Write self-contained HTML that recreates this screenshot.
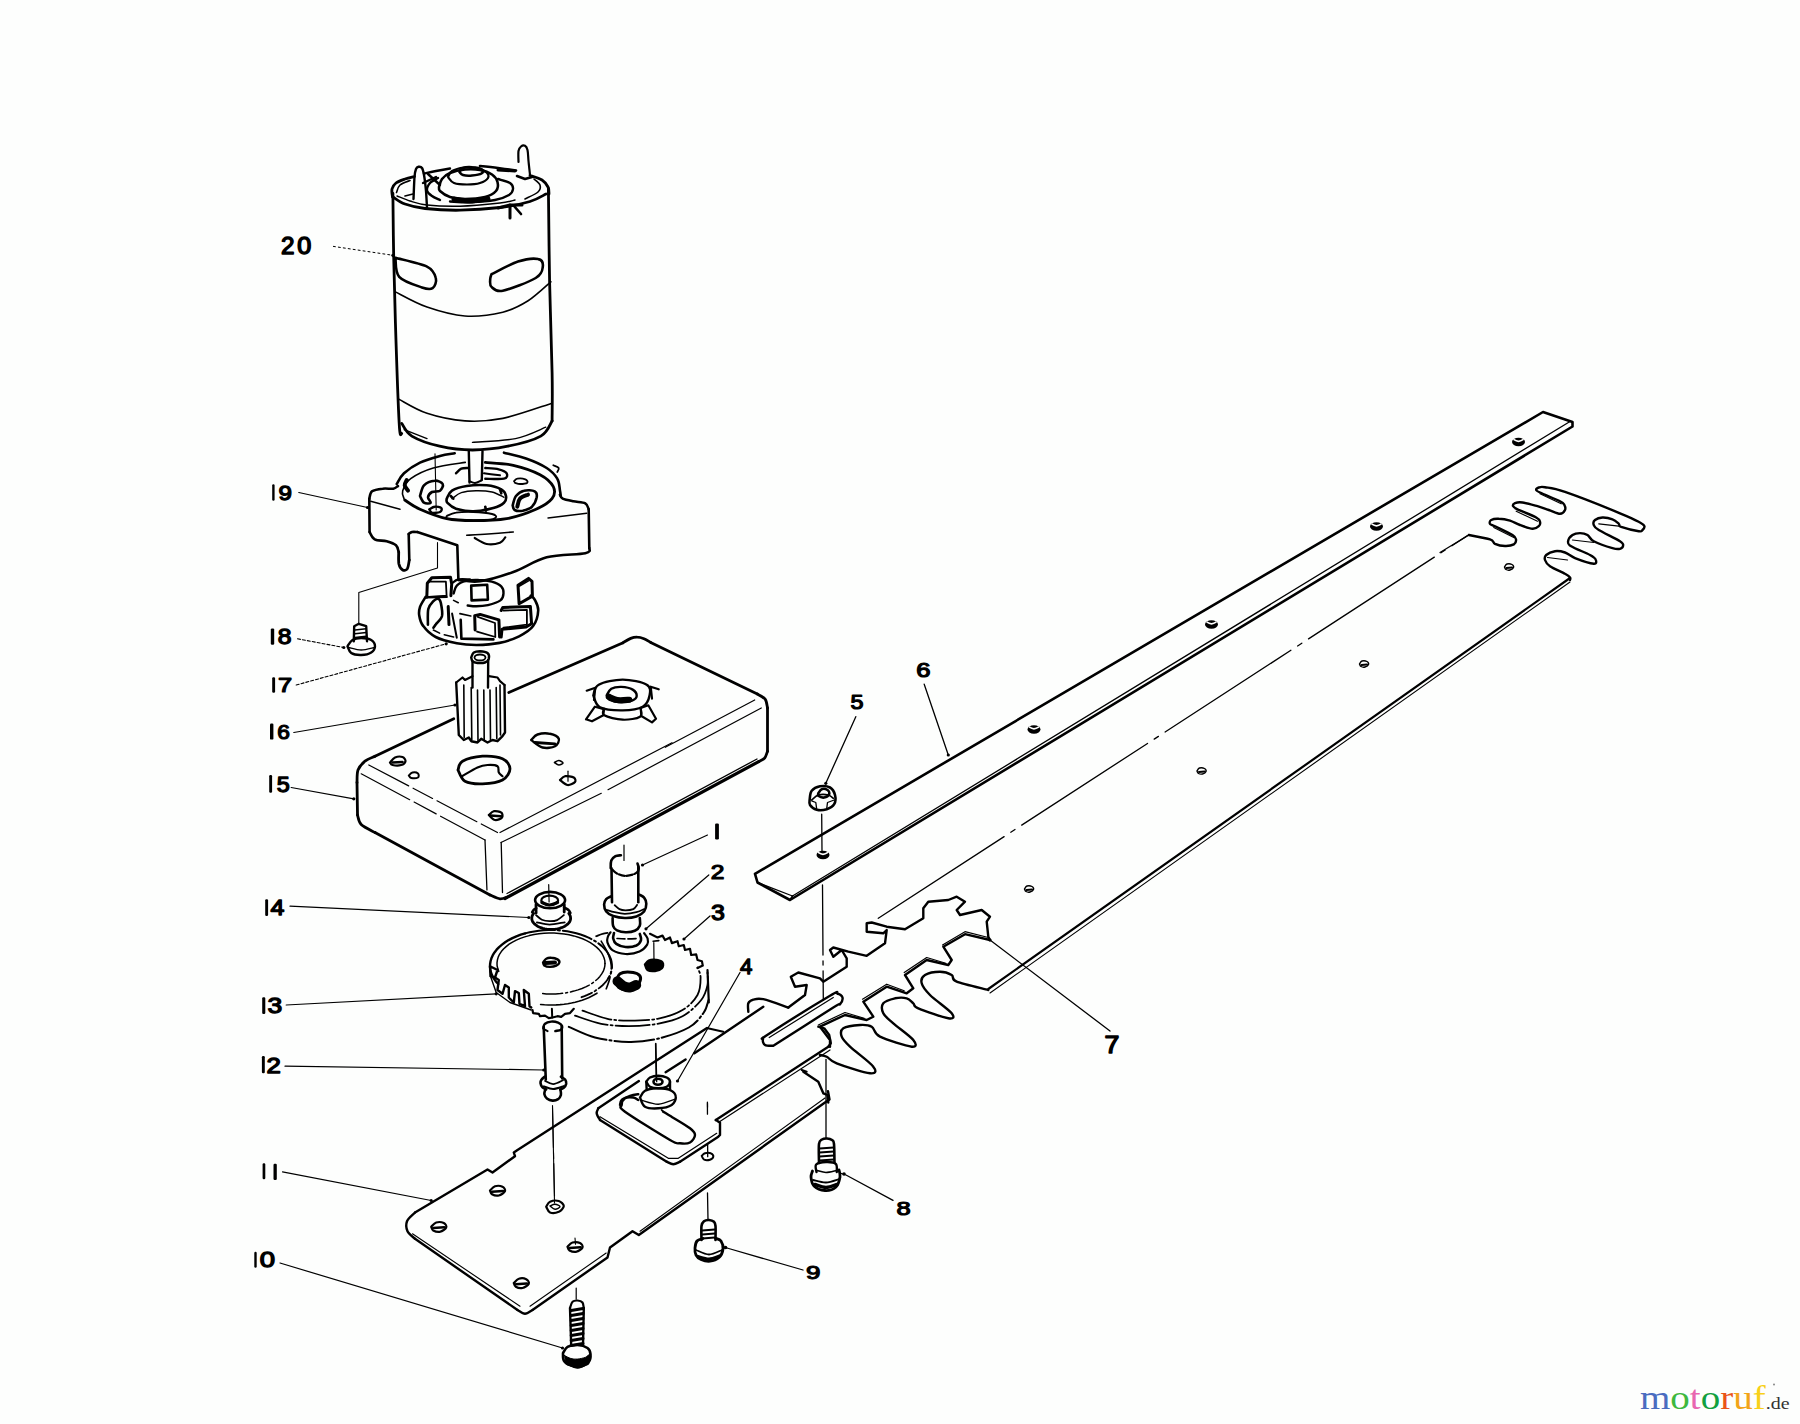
<!DOCTYPE html>
<html><head><meta charset="utf-8"><style>
html,body{margin:0;padding:0;background:#fdfefd;}
svg{display:block;}
</style></head><body>
<svg width="1800" height="1424" viewBox="0 0 1800 1424" stroke="#000" stroke-linecap="round" stroke-linejoin="round" fill="none">
<path d="M392.9 193.3 C393 203 393.2 230 393.6 251.5 C394 273 394.5 293.6 395.4 322.3 C396.3 350.9 398.1 404.9 399.2 423.4 C400.2 442 401.3 431.8 401.7 433.5" stroke-width="2.8" fill="none"/>
<path d="M548.4 188.3 C548.6 203.9 549 251.1 549.6 281.8 C550.3 312.6 551.7 349.7 552.1 372.8 C552.6 396 552.1 412.9 552.1 420.9" stroke-width="2.8" fill="none"/>
<path d="M401.7 423.4 C403.4 425.5 405.5 432.3 411.8 436.1 C418.1 439.8 429.5 443.9 439.6 446.2 C449.7 448.5 461.1 450 472.5 450 C483.9 450 496.5 448.5 507.9 446.2 C519.3 443.9 533.4 440.3 540.8 436.1 C548.1 431.8 550.3 423.4 552.1 420.9" stroke-width="2.8" fill="none"/>
<path d="M399.2 399.4 C403.8 401.7 416 409.7 427 413.3 C437.9 416.9 452.3 420 464.9 420.9 C477.6 421.7 488.3 421.3 502.8 418.4 C517.4 415.4 543.9 405.7 552.1 403.2" stroke-width="1.6" fill="none"/>
<path d="M404.2 429.7 C408 431.2 423.2 437.1 427 438.6" stroke-width="1.4" fill="none"/>
<path d="M472.5 442.4 C479.7 441.7 503.3 441.1 515.5 438.6 C527.7 436.1 540.8 429.1 545.8 427.2" stroke-width="1.4" fill="none"/>
<path d="M395.4 291.9 C400.7 294.5 415.4 303.1 427 307.1 C438.6 311.1 452.3 315.1 464.9 316 C477.6 316.8 492.3 314.7 502.8 312.2 C513.4 309.6 520.1 305.8 528.1 300.8 C536.1 295.7 547.1 285 550.9 281.8" stroke-width="1.6" fill="none"/>
<path d="M392.5 197 C392.4 195.7 391.4 191.3 392 189 C392.6 186.7 393.8 184.7 396 183 C398.2 181.3 401.9 180.1 405 179 C408.1 177.9 412.9 176.9 414.5 176.5" stroke-width="2.8" fill="none"/>
<path d="M424 173.5 C426 173.1 431.7 171.8 436 171 C440.3 170.2 447.7 168.9 450 168.5" stroke-width="2.4" fill="none"/>
<path d="M480 166 C483 166.3 492 167.2 498 168 C504 168.8 513 170.1 516 170.5" stroke-width="2.6" fill="none"/>
<path d="M530 175.5 C532 176.2 539 178.1 542 180 C545 181.9 546.8 184.7 548 187 C549.2 189.3 548.8 192.8 549 194" stroke-width="2.8" fill="none"/>
<path d="M393 197 C395 198.2 399.7 202.1 405 204 C410.3 205.9 415.8 207.5 425 208.5 C434.2 209.5 447.5 210.4 460 210.2 C472.5 210 488.3 208.9 500 207.5 C511.7 206.1 522.3 203.8 530 201.5 C537.7 199.2 543.3 195.2 546 194" stroke-width="2.8" fill="none"/>
<path d="M396.5 192.5 C397.1 191.2 397.8 187 400 185 C402.2 183 408.3 181.2 410 180.5" stroke-width="1.6" fill="none"/>
<path d="M534 179 C535 180 539.3 182.8 540 185 C540.7 187.2 540.5 189.7 538 192 C535.5 194.3 527.2 197.8 525 199" stroke-width="1.6" fill="none"/>
<path d="M397 196 C399.2 196.8 405 199.5 410 201 C415 202.5 418.7 204.1 427 205 C435.3 205.9 447.8 206.5 460 206.2 C472.2 205.9 490.8 204 500 203 C509.2 202 512.5 200.5 515 200" stroke-width="1.4" fill="none"/>
<path d="M440 200 C438.7 199.3 434.2 197.6 432 196 C429.8 194.4 427.3 192.7 427 190.5 C426.7 188.3 428.2 185.1 430 183 C431.8 180.9 436.7 178.8 438 178" stroke-width="2.4" fill="none"/>
<path d="M498 179 C500 179.7 507.5 181.3 510 183 C512.5 184.7 513.2 187 513 189 C512.8 191 512 193.2 509 195 C506 196.8 501.5 198.8 495 200 C488.5 201.2 477.5 201.9 470 202.2 C462.5 202.4 453.3 201.6 450 201.5" stroke-width="2.4" fill="none"/>
<path d="M439 187 C439.5 185.7 440.2 181.3 442 179 C443.8 176.7 446.2 174.6 450 173 C453.8 171.4 460 170 465 169.5 C470 169 475.5 169.2 480 170 C484.5 170.8 489.1 172.5 492 174.5 C494.9 176.5 496.8 179.2 497.5 182 C498.2 184.8 498.1 188.5 496 191 C493.9 193.5 490.2 195.7 485 197 C479.8 198.3 470.8 199 465 199 C459.2 199 454.2 198.3 450 197 C445.8 195.7 441.8 192.7 440 191 C438.2 189.3 439.2 187.7 439 187" stroke-width="2.6" fill="none"/>
<path d="M448 177 C448.7 176 449.3 172.6 452 171 C454.7 169.4 460 168 464 167.5 C468 167 472.3 167.2 476 168 C479.7 168.8 484 170.3 486 172 C488 173.7 489 176.2 488 178 C487 179.8 483.5 181.9 480 183 C476.5 184.1 471.3 184.5 467 184.5 C462.7 184.5 457.2 184.2 454 183 C450.8 181.8 449 178 448 177" stroke-width="2.2" fill="none"/>
<path d="M459.5 172 C460.1 171.3 460.9 168.8 463 168 C465.1 167.2 468.8 166.9 472 167.2 C475.2 167.4 480.4 168.4 482 169.5 C483.6 170.6 483.2 172.5 481.5 173.5 C479.8 174.5 475.1 175.2 472 175.5 C468.9 175.8 465.1 175.6 463 175 C460.9 174.4 460.1 172.5 459.5 172" stroke-width="2.6" fill="none"/>
<path d="M454 199 C456.7 199.3 464.3 201 470 201 C475.7 201 485 199.3 488 199" stroke-width="5" fill="none"/>
<path d="M413.5 199 C413.7 195.3 414.1 182 414.5 177 C414.9 172 415.3 170.7 416 169 C416.7 167.3 417.5 167 418.5 166.8 C419.5 166.6 421.1 166.6 422 168 C422.9 169.4 423.3 171.2 424 175 C424.7 178.8 425.5 185.5 426 191 C426.5 196.5 426.8 205.2 427 208" stroke-width="2.4" fill="none"/>
<path d="M518.5 162 C518.5 160.2 518.1 153.6 518.5 151 C518.9 148.4 519.9 147.4 521 146.5 C522.1 145.6 523.9 145.2 525 145.8 C526.1 146.4 526.9 147.5 527.5 150 C528.1 152.5 528.1 156.8 528.5 161 C528.9 165.2 529.8 172.7 530 175" stroke-width="2.2" fill="none"/>
<path d="M517 176 L525 179 L532 177" stroke-width="2.6" fill="none"/>
<path d="M498 208 L510 205 L522 205" stroke-width="3" fill="none"/>
<path d="M510 205 L510 218" stroke-width="3" fill="none"/>
<path d="M514 206 L521 214" stroke-width="2.6" fill="none"/>
<path d="M423 183 L436 177" stroke-width="2.4" fill="none"/>
<path d="M428 174 L440 185" stroke-width="2.4" fill="none"/>
<path d="M498 170 L515 171" stroke-width="3" fill="none"/>
<path d="M405 196 L413 194" stroke-width="1.6" fill="none"/>
<path d="M395.4 257.8 C400.7 259.3 420.2 263.3 427 266.6 C433.7 270 434.9 274.4 435.8 278 C436.8 281.6 434.9 286.6 432.6 288.1 C430.2 289.7 427.5 289.3 421.9 287.4 C416.4 285.5 403.6 281.7 399.2 276.8 C394.8 271.8 396 261 395.4 257.8" stroke-width="2.6" fill="none"/>
<path d="M491.5 274.2 C495.9 272.1 510.2 264.1 518 261.6 C525.8 259.1 534.1 258.2 538.2 259.1 C542.4 259.9 543.2 263.5 542.8 266.6 C542.4 269.8 542.4 274 535.7 278 C529.1 282 510.2 289.2 502.8 290.7 C495.5 292.1 493.6 288.8 491.5 286.9 C489.4 285 490.2 281.4 490.2 279.3 C490.2 277.2 491.3 275.1 491.5 274.2" stroke-width="2.6" fill="none"/>
<path d="M333.4 246.4 L392.9 255.3" stroke-width="1" fill="none" stroke-dasharray="2 3"/>
<circle cx="392.9" cy="255.3" r="1.6" fill="#000" stroke="none"/>
<path d="M468.8 451.2 L469.5 482.5" stroke-width="2.4" fill="none"/>
<path d="M482.5 451.2 L481.8 480" stroke-width="2.4" fill="none"/>
<path d="M469.5 481.2 C470.4 481.5 473 483.1 475 483 C477 482.9 480.2 480.9 481.2 480.5" stroke-width="2" fill="none"/>
<path d="M396.7 484 C397.9 482.2 400.1 476.9 404 473.3 C407.9 469.8 414 465.6 420 462.7 C426 459.8 434.2 457.6 440 456 C445.8 454.4 452.2 453.8 454.7 453.3" stroke-width="2.6" fill="none"/>
<path d="M504 452.7 C507.8 453.7 519.6 456.1 526.7 458.7 C533.8 461.2 541.6 464.7 546.7 468 C551.8 471.3 555.1 474.9 557.3 478.7 C559.6 482.4 559.4 487.8 560 490.7 C560.6 493.6 560.6 495.1 560.7 496" stroke-width="2.6" fill="none"/>
<path d="M553.3 465.3 C554.2 465.8 558 466.9 558.7 468 C559.3 469.1 557.6 471.3 557.3 472" stroke-width="1.8" fill="none"/>
<path d="M404 498.7 C403.8 497.3 401.6 494 402.7 490.7 C403.8 487.3 405.6 482.4 410.7 478.7 C415.8 474.9 424.2 470.7 433.3 468 C442.4 465.3 460 463.3 465.3 462.4" stroke-width="1.6" fill="none"/>
<path d="M485.3 462.4 C490 462.9 504.2 463.3 513.3 465.3 C522.4 467.4 533.3 471.1 540 474.7 C546.7 478.2 551.3 482.7 553.3 486.7 C555.3 490.7 554.9 494.9 552 498.7 C549.1 502.4 543.6 506 536 509.3 C528.4 512.7 517.1 516.8 506.7 518.7 C496.2 520.6 483.3 520.7 473.3 520.7 C463.3 520.7 455.6 520.6 446.7 518.7 C437.8 516.8 427 512.4 420 509.3 C413 506.2 407.2 501.6 404.7 500" stroke-width="2.8" fill="none"/>
<path d="M406.7 480 C406.3 480.9 404.4 483.6 404.7 485.3 C404.9 487.1 407.4 489.8 408 490.7" stroke-width="4" fill="none"/>
<path d="M446.7 498.7 C447.6 497.3 448.7 492.8 452 490.7 C455.3 488.6 460.9 486.9 466.7 486 C472.4 485.1 480.9 484.8 486.7 485.3 C492.4 485.9 498.1 487.6 501.3 489.3 C504.6 491.1 505.6 493.8 506 496 C506.4 498.2 506.1 500.7 504 502.7 C501.9 504.7 498.4 506.6 493.3 508 C488.2 509.4 479.6 511.2 473.3 511.3 C467.1 511.4 460.3 510.1 456 508.7 C451.7 507.2 448.9 504.3 447.3 502.7 C445.8 501 446.8 499.3 446.7 498.7" stroke-width="2.6" fill="none"/>
<path d="M452 498.7 C453.6 497.7 457.3 494 461.3 492.7 C465.3 491.3 470.9 490.8 476 490.7 C481.1 490.6 487.3 490.9 492 492 C496.7 493.1 502 496.4 504 497.3" stroke-width="1.4" fill="none"/>
<path d="M485.3 506.7 L486 510.7" stroke-width="2.6" fill="none"/>
<path d="M450.7 496 L453.3 498.7" stroke-width="2.6" fill="none"/>
<path d="M500 489.3 L501.3 493.3" stroke-width="2.6" fill="none"/>
<path d="M420 496 C420.7 494.2 421.6 487.9 424 485.3 C426.4 482.8 431.6 480.9 434.7 480.7 C437.8 480.4 441.8 482.3 442.7 484 C443.6 485.7 441.8 489.3 440 490.7 C438.2 492 434 490.9 432 492 C430 493.1 428.2 495.6 428 497.3 C427.8 499.1 431.3 501.8 430.7 502.7 C430 503.6 425.8 503.8 424 502.7 C422.2 501.6 420.7 497.1 420 496" stroke-width="2.6" fill="none"/>
<path d="M512.7 505.3 C513.2 503.8 514.1 498.4 516 496 C517.9 493.6 520.9 491.4 524 490.7 C527.1 489.9 532.6 490.2 534.7 491.3 C536.8 492.4 537.1 494.8 536.7 497.3 C536.2 499.9 534.3 504.4 532 506.7 C529.7 508.9 525.6 510.1 522.7 510.7 C519.8 511.2 516.3 510.9 514.7 510 C513 509.1 513 506.1 512.7 505.3" stroke-width="2.6" fill="none"/>
<path d="M517.3 506.7 C517.8 505.3 518.2 500.7 520 498.7 C521.8 496.7 526.7 495.3 528 494.7" stroke-width="4" fill="none"/>
<path d="M456 473.3 C456.9 472.6 459.3 469.6 461.3 468.7 C463.3 467.8 466.9 468.1 468 468" stroke-width="2.4" fill="none"/>
<path d="M485.3 468 C487.6 468.2 495.1 468.4 498.7 469.3 C502.2 470.2 505.8 471.8 506.7 473.3 C507.6 474.9 507.6 477.8 504 478.7 C500.4 479.6 488.4 478.7 485.3 478.7" stroke-width="2.4" fill="none"/>
<path d="M484 473.3 C486.7 473.7 497.3 475 500 475.3" stroke-width="2" fill="none"/>
<path d="M514 481.3 C514.6 480.9 515.4 479 517.3 478.7 C519.2 478.3 523.7 478.7 525.3 479.3 C527 480 528.2 481.9 527.3 482.7 C526.4 483.4 522.1 484 520 484 C517.9 484 515.6 482.9 514.7 482.7" stroke-width="1.8" fill="none"/>
<path d="M446.7 516 C448.2 515.4 451.6 513.3 456 512.7 C460.4 512 467.3 511.8 473.3 512 C479.3 512.2 488.2 513.1 492 514 C495.8 514.9 496.7 516.3 496 517.3 C495.3 518.3 492.9 519.6 488 520 C483.1 520.4 473.3 520.2 466.7 520 C460 519.8 451.3 519.3 448 518.7 C444.7 518 446.9 516.4 446.7 516" stroke-width="1.8" fill="none"/>
<path d="M429.3 509.3 C430.2 508.9 432.7 506.9 434.7 506.7 C436.7 506.4 440.4 507.1 441.3 508 C442.2 508.9 441.6 511.2 440 512 C438.4 512.8 433.8 513.1 432 512.7 C430.2 512.2 429.8 509.9 429.3 509.3" stroke-width="2.4" fill="none"/>
<path d="M398 486 C397.2 486.4 395.9 488.2 393.3 488.7 C390.8 489.1 386.2 488.2 382.7 488.7 C379.1 489.1 374.2 489.7 372 491.3 C369.8 493 369.8 497.4 369.3 498.7" stroke-width="2.6" fill="none"/>
<path d="M369.3 498.7 L369.6 532" stroke-width="2.6" fill="none"/>
<path d="M369.6 532 C370.4 533.2 371.8 537.8 374.7 539.3 C377.5 540.9 383.1 540.3 386.7 541.3 C390.2 542.3 394 543.6 396 545.3 C398 547.1 398.2 550.9 398.7 552" stroke-width="2.6" fill="none"/>
<path d="M398.7 552 C398.7 554 398.3 561 398.9 564 C399.6 567 401.3 569.2 402.7 570 C404.1 570.8 406.2 570.3 407.3 568.7 C408.4 567 409 561.4 409.3 560" stroke-width="2.8" fill="none"/>
<path d="M409.3 560 L408.7 534" stroke-width="2.6" fill="none"/>
<path d="M408.7 534 C409.2 533.7 410.6 532.3 412 532 C413.4 531.7 416.4 532 417.3 532" stroke-width="2.6" fill="none"/>
<path d="M417.3 532 L457.3 545.3 L458.4 580" stroke-width="2.6" fill="none"/>
<path d="M458.7 580 C462.2 580.2 470.9 582.7 480 581.3 C489.1 580 502.2 576 513.3 572 C524.4 568 534.7 560.4 546.7 557.3 C558.7 554.2 578.2 554.9 585.3 553.3 C592.4 551.8 588.7 548.9 589.3 548" stroke-width="2.6" fill="none"/>
<path d="M589.3 548 L588.7 509.3" stroke-width="2.6" fill="none"/>
<path d="M588.7 509.3 C588.1 508.3 587.9 504.7 585.3 503.3 C582.8 502 577.1 502.1 573.3 501.3 C569.6 500.6 564.9 499.8 562.7 498.7 C560.4 497.6 560.4 495.3 560 494.7" stroke-width="2.6" fill="none"/>
<path d="M370.7 501.3 L400 509.3" stroke-width="1.4" fill="none"/>
<path d="M548 518 L586.7 513.3" stroke-width="1.4" fill="none"/>
<path d="M466.7 535.3 C470.2 535.1 480.2 534.6 488 534 C495.8 533.4 509.1 532.3 513.3 532" stroke-width="1.6" fill="none"/>
<path d="M474.7 538 C476.7 539 482.4 543.2 486.7 544 C490.9 544.8 496.9 543.8 500 542.7 C503.1 541.6 504.4 538.2 505.3 537.3" stroke-width="2.2" fill="none"/>
<path d="M425.6 596.9 C424.7 598.5 421.2 603.6 420.1 606.6 C419.1 609.7 418.7 612 419.2 615.2 C419.7 618.5 420.5 622.5 423.3 626.1 C426 629.8 430.1 634.2 435.7 637 C441.3 639.9 450 641.9 456.8 643.3 C463.5 644.6 469.1 645 476.3 645 C483.4 644.9 492.5 644.3 499.6 642.9 C506.8 641.4 513.5 639 519.1 636.3 C524.7 633.5 530 630.4 533.1 626.1 C536.3 621.8 538 614.9 538.2 610.5 C538.5 606.1 535.9 602.1 534.7 599.6 C533.5 597.1 531.5 596.4 530.8 595.7" stroke-width="2.6" fill="none"/>
<path d="M453.6 593.4 C454.2 592.1 454.7 587.7 456.8 585.6 C458.8 583.5 462.5 581.8 466.1 580.9 C469.8 580 474.3 579.8 478.6 580 C482.9 580.1 488.1 580.6 491.8 581.7 C495.6 582.8 499.2 584.4 501.2 586.4 C503.1 588.3 503.7 591 503.5 593.4 C503.4 595.7 503 598.4 500.4 600.4 C497.8 602.3 492 604.1 487.9 605.1 C483.9 606 479.6 606.2 476.3 606.2 C472.9 606.3 469.1 605.6 467.7 605.5" stroke-width="2.4" fill="none"/>
<path d="M452.1 583.3 C453.1 582.6 455.3 580 458.3 579.4 C461.3 578.7 468.1 579.4 470 579.4" stroke-width="2.2" fill="none"/>
<path d="M471.2 585.6 L487.2 584.8 L487.9 599.6 L471.6 600.4 L471.2 585.6" stroke-width="2.6" fill="none"/>
<path d="M426.8 597.3 L427.3 583.3 L431.8 577.8 L450.5 577.2 L451.7 584 L450.9 595.7" stroke-width="3" fill="none"/>
<path d="M428.7 581.7 L445.9 581.7 L446.6 595.7 L429.5 596.9" stroke-width="1.8" fill="none"/>
<path d="M426.8 597.3 L446.6 596.9" stroke-width="2.4" fill="none"/>
<path d="M518 585.2 L528.5 578.4 L532 581.3 L532.4 596.1 L519.1 603.7 L518 585.2" stroke-width="3" fill="none"/>
<path d="M519.1 586.4 L528.5 580.9" stroke-width="1.6" fill="none"/>
<path d="M501.2 610.5 L502.8 607.4 L530.4 606.5 L531.6 623.8 L526.1 626.9 L502 629.2 L501.2 637" stroke-width="3" fill="none"/>
<path d="M503.5 610.5 L526.9 609.8 L526.9 624.6 L503.5 627.7" stroke-width="1.8" fill="none"/>
<path d="M475.1 630 L474.7 615.6 L480.1 614.4 L498.9 619.9 L499.6 637" stroke-width="3" fill="none"/>
<path d="M477.8 616.8 L495 623 L495.3 637 L477 631.6" stroke-width="1.8" fill="none"/>
<path d="M460.7 619.9 L461.4 638.6 L493.4 639.4" stroke-width="2.6" fill="none"/>
<path d="M459.9 613.6 L470.8 616" stroke-width="1.6" fill="none"/>
<path d="M427.9 624.6 C428 622 427.4 612.9 428.3 609 C429.2 605.1 431.8 602.9 433.4 601.2 C435 599.5 436.8 598.6 438.1 598.8 C439.3 599.1 440.1 599.9 440.8 602.7 C441.4 605.6 442.8 612.3 442 616 C441.1 619.6 437.1 622.6 435.7 624.6 C434.3 626.5 433.8 627.2 433.4 627.7" stroke-width="2.6" fill="none"/>
<path d="M448.2 606.6 L449 624.6" stroke-width="3" fill="none"/>
<path d="M452.1 613.6 L456.8 637.8" stroke-width="2" fill="none"/>
<path d="M453.6 600.4 L458.3 602.7" stroke-width="1.6" fill="none"/>
<path d="M433.4 630 L439.6 633.1" stroke-width="1.6" fill="none"/>
<path d="M444.3 634.7 L453.6 637" stroke-width="1.6" fill="none"/>
<path d="M347.5 646.2 C348.3 645.2 350.2 641.4 352.5 640 C354.8 638.6 358.1 638 361.2 638 C364.4 638 369 638.6 371.2 640 C373.5 641.4 375 644.2 375 646.2 C375 648.3 373.5 651 371.2 652.5 C369 654 364.6 654.9 361.2 655 C357.9 655.1 353.5 654.5 351.2 653 C349 651.5 348.1 647.4 347.5 646.2" stroke-width="2.4" fill="none"/>
<path d="M348.8 647.5 C350.8 647.9 357 650 361.2 650 C365.5 650 372.3 647.9 374.5 647.5" stroke-width="1.4" fill="none"/>
<path d="M353.8 641.2 L354.2 626.2 L358.8 623.8 L366.2 626.2 L367 641.2" stroke-width="2.4" fill="none"/>
<path d="M355 630 L366.2 628.8" stroke-width="1.6" fill="none"/>
<path d="M355 633.8 L366.2 632.5" stroke-width="1.6" fill="none"/>
<path d="M355 637.5 L366.2 636.2" stroke-width="1.6" fill="none"/>
<path d="M358.8 623.8 L358.8 592.5 L437.5 568 L437.5 542.5" stroke-width="1.1" fill="none"/>
<path d="M435 453.8 L436.2 510" stroke-width="1.1" fill="none"/>
<path d="M471.2 657.5 C471.7 656.7 472.3 653.5 473.8 652.5 C475.2 651.5 477.7 651.2 480 651.2 C482.3 651.3 486 651.8 487.5 653 C489 654.2 489.2 657.2 488.8 658.8 C488.3 660.3 486.9 661.8 485 662.5 C483.1 663.2 479.6 663.2 477.5 663 C475.4 662.8 473.5 662.2 472.5 661.2 C471.5 660.3 471.5 658.1 471.2 657.5" stroke-width="2.4" fill="none"/>
<ellipse cx="480" cy="657.5" rx="5.5" ry="3" stroke-width="1.8" fill="none"/>
<path d="M472.5 661.2 L472.5 687.5" stroke-width="2.4" fill="none"/>
<path d="M488.2 660 L488 687.5" stroke-width="2.4" fill="none"/>
<path d="M456.2 682.5 L462.5 677.5 L465 680 L472.5 676.2" stroke-width="2.2" fill="none"/>
<path d="M488.8 676.2 L497.5 677.5 L500 681.2 L504.5 685" stroke-width="2.2" fill="none"/>
<path d="M456.2 682.5 L458.8 735 L463.8 740 L468.8 737.5 L471.2 741.2 L477.5 742.5 L481.2 738.8 L487.5 742.5 L492.5 740 L497.5 741.2 L502.5 736.2 L505 732.5 L504.5 685" stroke-width="2.4" fill="none"/>
<path d="M463.8 685 L464.2 737.5" stroke-width="1.6" fill="none"/>
<path d="M471.2 687.5 L471.8 740" stroke-width="1.6" fill="none"/>
<path d="M477.5 690 L478 741.2" stroke-width="1.6" fill="none"/>
<path d="M483.8 690 L484.2 740" stroke-width="1.6" fill="none"/>
<path d="M490 690 L490.5 740" stroke-width="1.6" fill="none"/>
<path d="M496.2 687.5 L496.8 738.8" stroke-width="1.6" fill="none"/>
<path d="M500 685 L500.5 735" stroke-width="1.6" fill="none"/>
<path d="M298.8 492.5 L367.5 507.5" stroke-width="1.2" fill="none"/>
<circle cx="367.5" cy="507.5" r="1.6" fill="#000" stroke="none"/>
<path d="M297.5 638.8 L343.8 647.5" stroke-width="1.1" fill="none" stroke-dasharray="3 2"/>
<circle cx="343.8" cy="647.5" r="1.6" fill="#000" stroke="none"/>
<path d="M296.2 685 L446.2 643.8" stroke-width="1.1" fill="none" stroke-dasharray="3 2"/>
<circle cx="446.2" cy="643.8" r="1.6" fill="#000" stroke="none"/>
<path d="M293.8 732.5 L455 705" stroke-width="1.2" fill="none"/>
<circle cx="455" cy="705" r="1.6" fill="#000" stroke="none"/>
<path d="M357 782.5 C357.2 780.4 356.7 773.5 358 770 C359.3 766.5 362.2 763.5 365 761.2 C367.8 759 373.3 757.1 375 756.2" stroke-width="2.8" fill="none"/>
<path d="M375 756.2 L453.8 718.8" stroke-width="2.8" fill="none"/>
<path d="M508.8 692.5 L622.5 643" stroke-width="2.8" fill="none"/>
<path d="M357 782.5 L357.5 815" stroke-width="2.8" fill="none"/>
<path d="M357.5 815 C358.1 816.6 358.3 821.6 361.2 824.5 C364.2 827.4 372.7 831.2 375 832.5" stroke-width="2.8" fill="none"/>
<path d="M375 832.5 L490 895" stroke-width="2.8" fill="none"/>
<path d="M490 895 C491.7 895.6 497.1 898.4 500 898.8 C502.9 899.1 506.2 897.3 507.5 897" stroke-width="2.8" fill="none"/>
<path d="M368.8 765 L497.5 832.5" stroke-width="1.2" fill="none" stroke-dasharray="45 5 22 5"/>
<path d="M361.2 773.8 L485 840" stroke-width="1.2" fill="none" stroke-dasharray="55 5 25 5"/>
<path d="M485 840 L487 891.2" stroke-width="1.3" fill="none" stroke-dasharray="50 5 8 5"/>
<path d="M501.2 842.5 L502.5 892.5" stroke-width="1.3" fill="none" stroke-dasharray="50 5 8 5"/>
<path d="M390 762.5 C390.8 761.7 392.9 758.4 395 757.5 C397.1 756.6 400.8 756.4 402.5 757 C404.2 757.6 405.7 759.9 405.5 761.2 C405.3 762.6 403.4 764.4 401.2 765 C399.1 765.6 394.4 765.4 392.5 765 C390.6 764.6 390.4 762.9 390 762.5" stroke-width="2.2" fill="none"/>
<path d="M392.5 762.5 L402.5 762" stroke-width="2.6" fill="none"/>
<path d="M408.8 775.5 C409.4 775 411 772.8 412.5 772.5 C414 772.2 417.1 772.7 418 773.5 C418.9 774.3 419.1 776.8 418 777.5 C416.9 778.2 412.8 778.3 411.2 778 C409.7 777.7 409.2 775.9 408.8 775.5" stroke-width="2" fill="none"/>
<path d="M458 770 C458.8 768.5 458.4 763.5 462.5 761.2 C466.6 759 475.8 756.7 482.5 756.2 C489.2 755.8 497.9 756.7 502.5 758.8 C507.1 760.8 510 765.2 510 768.8 C510 772.3 507.1 777.5 502.5 780 C497.9 782.5 488.8 783.5 482.5 783.8 C476.2 784 469.1 783.5 465 781.2 C460.9 779 459.2 771.9 458 770" stroke-width="2.8" fill="none"/>
<path d="M462 776.2 C464.6 774.8 473.2 769.4 477.5 767.5 C481.8 765.6 484.2 765.2 487.5 765 C490.8 764.8 495.6 765 497.5 766.2 C499.4 767.5 497.9 770.8 498.8 772.5 C499.6 774.2 501.9 775.6 502.5 776.2" stroke-width="2.2" fill="none"/>
<path d="M531.2 740 C532.3 739.1 534.4 735.5 537.5 734.5 C540.6 733.5 546.5 733 550 733.8 C553.5 734.5 557.9 736.7 558.8 738.8 C559.6 740.8 557.7 744.8 555 746.2 C552.3 747.7 546.5 748.5 542.5 747.5 C538.5 746.5 533.1 741.2 531.2 740" stroke-width="2.4" fill="none"/>
<path d="M535 742.5 L555 743.8" stroke-width="2.8" fill="none"/>
<path d="M554.5 762.5 C555.2 762.2 557.3 760.4 558.8 760.5 C560.2 760.6 563 762.2 563 763 C563 763.8 560.2 765.1 558.8 765 C557.3 764.9 555.2 762.9 554.5 762.5" stroke-width="1.6" fill="none"/>
<path d="M560 780 C560.8 779.4 562.7 776.7 565 776.2 C567.3 775.8 572.1 776.5 573.8 777.5 C575.4 778.5 576 780.8 575 782 C574 783.2 570 785.3 567.5 785 C565 784.7 561.2 780.8 560 780" stroke-width="2.2" fill="none"/>
<path d="M568 771.2 L568 781.2" stroke-width="1.2" fill="none"/>
<path d="M488.8 815 C489.6 814.4 491.7 811.7 493.8 811.2 C495.8 810.8 499.9 811.5 501.2 812.5 C502.6 813.5 503 816.2 502 817.5 C501 818.8 497.2 820.4 495 820 C492.8 819.6 489.8 815.8 488.8 815" stroke-width="2.2" fill="none"/>
<path d="M490 815.5 L501.2 816.2" stroke-width="2.4" fill="none"/>
<path d="M593.3 695.3 C594.2 693.6 593.8 687.3 598.7 684.7 C603.6 682 614.7 679.6 622.7 679.6 C630.7 679.6 642.2 682 646.7 684.7 C651.2 687.3 650.3 691.7 649.6 695.3 C648.9 699 647.2 704.2 642.7 706.7 C638.2 709.2 629.8 710.3 622.7 710.4 C615.6 710.5 604.9 709.8 600 707.3 C595.1 704.8 594.4 697.3 593.3 695.3" stroke-width="2.4" fill="none"/>
<path d="M604 708.7 C604 709.8 601.2 713.5 604.3 715.3 C607.4 717.2 616.7 719.5 622.7 719.7 C628.6 720 637 718.6 640 716.7 C643 714.8 640.6 709.7 640.7 708.3" stroke-width="2.2" fill="none"/>
<path d="M606.7 695.3 C607.4 694.2 608.9 690.1 611.3 688.7 C613.8 687.3 617.8 686.8 621.3 686.9 C624.9 687.1 630.1 688.1 632.7 689.6 C635.2 691.1 636.8 694.2 636.7 696 C636.6 697.8 634.6 699.6 632 700.7 C629.4 701.7 625.1 702.4 621.3 702.3 C617.6 702.1 611.8 700.8 609.3 699.6 C606.9 698.4 607.1 696 606.7 695.3" stroke-width="2.4" fill="none"/>
<path d="M608.7 696.7 C610.1 697.2 613.9 699.5 617.3 700 C620.8 700.5 627.3 699.8 629.3 699.7" stroke-width="6" fill="none"/>
<path d="M586.7 690.7 L595.3 687.7 L594 700" stroke-width="2.2" fill="none"/>
<path d="M658.7 689.3 L650.7 686.7 L652 698.7" stroke-width="2.2" fill="none"/>
<path d="M586 719.3 L594.9 706.7 L604 709.1 L603.3 715.3 L592 721.3 L586 719.3" stroke-width="2.2" fill="none"/>
<path d="M656 718.7 L648.3 705.3 L640.7 708 L641.3 716 L652 722.4 L656 718.7" stroke-width="2.2" fill="none"/>
<path d="M622.7 642.9 C624 642.2 628.2 639.4 630.7 638.4 C633.1 637.4 635.1 637 637.3 637.1 C639.6 637.1 641.8 637.8 644 638.7 C646.2 639.6 649.6 641.8 650.7 642.4" stroke-width="2.8" fill="none"/>
<path d="M650.7 642.4 L757.3 694" stroke-width="2.8" fill="none"/>
<path d="M757.3 694 C758.7 694.9 763.6 697 765.3 699.3 C767 701.7 767.1 706.6 767.5 708" stroke-width="2.8" fill="none"/>
<path d="M767.5 708 L767.5 751.3" stroke-width="2.8" fill="none"/>
<path d="M767.5 751.3 C767 752.4 766.1 756.3 764.7 758 C763.2 759.7 759.7 761 758.7 761.6" stroke-width="2.8" fill="none"/>
<path d="M505 898.5 L758.7 761.6" stroke-width="3.2" fill="none"/>
<path d="M507 893.5 L757 759" stroke-width="1.3" fill="none"/>
<path d="M500 832.5 L672 742.7" stroke-width="1.2" fill="none"/>
<path d="M665.3 747.3 L754.7 700" stroke-width="1.2" fill="none"/>
<path d="M501 842.5 L601.3 793.3" stroke-width="1.2" fill="none"/>
<path d="M608 789.7 L761.3 708" stroke-width="1.2" fill="none"/>
<path d="M291.2 787.5 L353.8 798.8" stroke-width="1.2" fill="none"/>
<circle cx="353.8" cy="798.8" r="1.6" fill="#000" stroke="none"/>
<path d="M568.8 913.5 L569.6 914.6 L570.2 915.8 L570.5 917.1 L570.6 918.3 L570.5 919.6 L570.1 920.8 L569.5 922 L568.6 923.1 L567.6 924.2 L566.3 925.2 L564.9 926.2 L563.2 927 L561.5 927.7 L559.6 928.3 L557.6 928.8 L555.5 929.1 L553.4 929.3 L551.2 929.4 L549 929.3 L546.9 929.1 L544.8 928.8 L542.8 928.3 L540.9 927.7 L539.2 927 L537.5 926.2 L536.1 925.2 L534.8 924.2 L533.8 923.1 L532.9 922 L532.3 920.8 L531.9 919.6 L531.8 918.3 L531.9 917.1 L532.2 915.8 L532.8 914.6 L533.6 913.5" stroke-width="2.8" fill="none"/>
<path d="M532.2 912.1 C532.5 911.7 533.3 910.2 533.9 909.6 C534.6 909 535.9 908.5 536.2 908.3" stroke-width="2.6" fill="none"/>
<path d="M564.1 907.5 C564.8 907.9 567.5 909.1 568.5 910 C569.6 910.9 570.1 912.5 570.4 913" stroke-width="2.6" fill="none"/>
<path d="M536 915.1 C537 915.9 539.7 918.7 541.9 919.7 C544.2 920.7 547 921.1 549.5 921.2 C552.1 921.3 554.7 921.2 557.1 920.1 C559.5 919.1 562.8 915.9 563.9 915.1" stroke-width="1.8" fill="none"/>
<path d="M536.9 922.3 C539 922.6 544.9 924.6 549.5 924.6 C554.2 924.6 562.2 922.6 564.7 922.3" stroke-width="1.8" fill="none"/>
<path d="M536 904.5 L536.1 913" stroke-width="2.8" fill="none"/>
<path d="M564.3 904.5 L564.2 912.1" stroke-width="2.8" fill="none"/>
<ellipse cx="550.1" cy="900.1" rx="15" ry="8.2" stroke-width="2.6" fill="none"/>
<ellipse cx="549.7" cy="900.4" rx="8.4" ry="4.7" stroke-width="2.2" fill="none"/>
<path d="M541.9 902.4 C543.2 902.8 546.9 905 549.5 905 C552.1 905 556.2 902.8 557.6 902.4" stroke-width="3.2" fill="none"/>
<path d="M548.7 884.7 L549.1 902" stroke-width="1.2" fill="none"/>
<path d="M290 906.2 L528.8 917.5" stroke-width="1.2" fill="none"/>
<circle cx="528.8" cy="917.5" r="1.6" fill="#000" stroke="none"/>
<path d="M624 845 L624 860.5" stroke-width="1.2" fill="none"/>
<path d="M610.7 868.2 C610.8 866.9 610.5 862.5 611.3 860.5 C612.1 858.5 613.9 857.1 615.5 856.2 C617.1 855.3 620 855.4 620.9 855.2" stroke-width="2.6" fill="none"/>
<path d="M637.5 863.5 C637.7 864.3 638.6 866.8 638.7 868.2 C638.8 869.5 638 871.1 637.9 871.7" stroke-width="2.6" fill="none"/>
<path d="M612.4 869.7 C613.2 870.4 615 872.6 617 873.6 C619.1 874.6 622.1 875.8 624.8 875.9 C627.5 876 631.1 875.1 633.3 874.4 C635.5 873.7 637.1 872.1 637.9 871.7" stroke-width="2.2" fill="none" stroke-dasharray="6 2"/>
<path d="M611.5 868.2 L612 902.2" stroke-width="2.6" fill="none"/>
<path d="M638.3 866.6 L638.3 902.2" stroke-width="2.6" fill="none"/>
<path d="M610.9 896.4 C610.1 896.8 607.4 897.7 606.2 899.1 C605.1 900.4 604.1 902.4 604.1 904.5 C604.1 906.6 604.7 909.5 606.2 911.5 C607.7 913.4 610.1 915 613.2 916.1 C616.3 917.2 620.9 918 624.8 918 C628.6 918.1 633.1 917.6 636.4 916.5 C639.6 915.4 642.4 913.6 644.1 911.5 C645.7 909.3 646.3 906.1 646.3 903.7 C646.3 901.4 645.3 899.1 644.1 897.6 C642.9 896 639.9 895 639.1 894.5" stroke-width="2.6" fill="none"/>
<path d="M614.7 905.3 C615.5 905.9 617.6 908.3 619.4 909.1 C621.2 910 623.2 910.3 625.5 910.3 C627.9 910.3 631.3 910 633.3 909.1 C635.2 908.2 636.5 905.6 637.1 904.9" stroke-width="1.8" fill="none"/>
<path d="M606.6 909.9 C608 910.3 611.7 911.6 614.7 912.2 C617.8 912.9 621.2 913.8 624.8 913.8 C628.4 913.8 633.1 913 636.4 912.2 C639.6 911.5 642.8 909.7 644.1 909.1" stroke-width="1.8" fill="none"/>
<path d="M612.6 918 C612.7 919.4 612.4 924.1 613.2 926.1 C613.9 928.2 615 929.4 617 930.4 C619.1 931.4 622.6 932.3 625.5 932.3 C628.5 932.4 632.4 931.9 634.8 930.8 C637.2 929.7 639 927.9 639.8 925.8 C640.7 923.6 639.8 919.3 639.8 918" stroke-width="2.6" fill="none"/>
<path d="M610.5 932.3 C610 933.1 608.3 935.3 607.8 937 C607.3 938.6 606.6 940.2 607.4 942.4 C608.2 944.6 609.4 948.2 612.4 950.1 C615.4 952 621 953.7 625.5 954 C630.1 954.2 635.9 953.2 639.5 951.6 C643.1 950.1 645.8 946.9 647.2 944.7 C648.5 942.5 648.1 940.4 647.6 938.5 C647.1 936.6 644.7 934 644.1 933.1" stroke-width="2.2" fill="none"/>
<path d="M614 933.1 C613.8 934 612.8 936.7 613.2 938.5 C613.6 940.3 614.2 942.5 616.3 943.9 C618.3 945.3 622.2 946.8 625.5 947 C628.9 947.3 633.8 946.6 636.4 945.5 C638.9 944.3 640.4 942 641 940.1 C641.6 938.1 640 934.9 639.8 933.9" stroke-width="2.6" fill="none"/>
<path d="M617 938.5 C618.5 938.6 622.1 938.9 625.5 938.9 C629 938.9 635.9 938.6 637.9 938.5" stroke-width="1.6" fill="none" stroke-dasharray="8 3"/>
<path d="M498.2 984 L495.8 981.4 L493.9 978.6 L492.3 975.8 L491.1 972.9 L490.4 969.9 L490 966.9 L490.1 964 L490.6 961 L491.5 958.1 L492.8 955.2 L494.5 952.4 L496.6 949.7 L499.1 947.1 L502 944.6 L505.1 942.3 L508.6 940.1 L512.4 938.1 L516.4 936.3 L520.7 934.7 L525.2 933.4" stroke-width="2.4" fill="none"/>
<path d="M525.2 933.4 L529.6 932.3 L534.2 931.4 L538.8 930.7 L543.6 930.3 L548.3 930 L553.1 930 L557.9 930.2 L562.6 930.7 L567.3 931.3 L571.9 932.2 L576.3 933.2 L580.6 934.5 L584.7 936 L588.6 937.6 L592.2 939.5 L595.6 941.4 L598.7 943.6 L601.6 945.9 L604.1 948.3 L606.3 950.8 L608.1 953.4 L609.6 956.1 L610.8 958.8 L611.5 961.6 L611.9 964.4 L612 967.3 L611.6 970.1 L610.9 972.9 L609.8 975.6 L608.3 978.3" stroke-width="2.0" fill="none" stroke-dasharray="30 3 2 3"/>
<path d="M608.3 978.3 L607 980.3 L605.5 982.2 L603.8 984 L602 985.8 L599.9 987.5 L597.7 989.1 L595.4 990.7 L592.9 992.2 L590.2 993.6 L587.4 994.9 L584.5 996.1 L581.5 997.2" stroke-width="1.8" fill="none" stroke-dasharray="14 3 2 3"/>
<path d="M498.8 971.4 L497.8 968.6 L497.1 965.7 L497 962.8 L497.4 960 L498.2 957.1 L499.5 954.3 L501.3 951.6 L503.5 949 L506.1 946.6 L509.1 944.2 L512.5 942.1 L516.3 940.1 L520.3 938.4 L524.7 936.9 L529.3 935.6 L534 934.5 L538.9 933.8 L544 933.3 L549 933 L554.1 933.1 L559.2 933.4 L564.2 933.9 L569.1 934.8 L573.8 935.9 L578.3 937.2 L582.6 938.8 L586.6 940.6 L590.3 942.6 L593.6 944.8 L596.5 947.1 L599.1 949.6 L601.2 952.2 L602.8 955 L604 957.8 L604.8 960.6 L605 963.5" stroke-width="1.5" fill="none"/>
<path d="M605 963.5 L604.8 966.2 L604.2 968.8 L603.2 971.4 L601.7 973.9 L599.9 976.4 L597.8 978.8 L595.2 981 L592.4 983.1 L589.2 985.1 L585.7 986.9 L582 988.5 L578 989.9 L573.8 991.1 L569.5 992.2 L565 993 L560.4 993.5 L555.7 993.9 L551 994 L546.3 993.9 L541.6 993.5" stroke-width="1.5" fill="none" stroke-dasharray="20 3 2 3"/>
<path d="M597 993.2 L594.3 994.8 L591.5 996.3 L588.6 997.7 L585.4 999 L582.1 1000.2 L578.7 1001.3 L575.2 1002.2 L571.5 1003 L567.8 1003.7 L564 1004.2 L560.1 1004.6 L556.2 1004.9 L552.3 1005 L548.4 1005 L544.5 1004.8 L540.6 1004.5" stroke-width="1.6" fill="none"/>
<path d="M490 966.2 L490.5 976.2 L495 977.5 L497.5 970 L492.5 967.5 L490 966.2" stroke-width="2.4" fill="none"/>
<path d="M495 977.5 L498.8 980 L497.5 990 L502.5 993.8 L505 985 L508.8 987.5 L508.8 997.5 L513.8 1002.5 L515 991.2 L518.8 993 L519.5 1003.8 L525 1006.2 L523.8 990 L528.8 993.8 L529.5 1006.2 L531.2 1007.5" stroke-width="2.4" fill="none"/>
<path d="M490.5 976.2 L496.2 992.5 L510 1002.5 L531.2 1010" stroke-width="1.4" fill="none"/>
<path d="M543.1 962.5 C543.6 961.9 544.9 959.5 546.2 958.8 C547.6 958 549.4 957.6 551.2 957.8 C553.1 957.9 556.1 958.6 557.5 959.4 C558.9 960.2 559.6 961.5 559.4 962.5 C559.2 963.5 557.8 964.9 556.2 965.6 C554.7 966.4 552 966.9 550 966.9 C548 966.9 545.5 966.4 544.4 965.6 C543.2 964.9 543.3 963 543.1 962.5" stroke-width="2.4" fill="none"/>
<path d="M545 963.1 L555 962.5" stroke-width="4" fill="none"/>
<path d="M532.5 1010 L533.1 1013.1 L538.8 1013.8 L540 1016.2 L545 1015.6 L548.8 1018.1 L552.5 1017.5 L557.5 1016.2 L561.2 1016.9 L565 1013.8 L570 1013.1 L573.8 1008.8" stroke-width="2.2" fill="none"/>
<path d="M551.9 1008.8 L552.2 1017.5" stroke-width="2" fill="none"/>
<path d="M582.5 1010.6 C586.7 1012 599.8 1017.1 607.5 1018.8 C615.2 1020.4 620.4 1020.6 628.8 1020.6 C637.1 1020.6 648.5 1020.5 657.5 1018.8 C666.5 1017 675.8 1014 682.5 1010 C689.2 1006 694.5 1000.4 697.5 995 C700.5 989.6 700.6 982.1 700.6 977.5 C700.6 972.9 698 969.2 697.5 967.5" stroke-width="1.8" fill="none" stroke-dasharray="30 3 2 3"/>
<path d="M575 1015.6 C579.4 1017 592.3 1022 601.2 1023.8 C610.2 1025.5 619.4 1026.2 628.8 1026.2 C638.1 1026.2 648.5 1025.4 657.5 1023.8 C666.5 1022.1 675.2 1020.2 682.5 1016.2 C689.8 1012.3 697.1 1005.2 701.2 1000 C705.4 994.8 706.5 989.6 707.5 985 C708.5 980.4 707.5 974.6 707.5 972.5" stroke-width="1.8" fill="none" stroke-dasharray="34 3 2 3"/>
<path d="M568.8 1026.9 C573.1 1028.6 585 1035 595 1037.5 C605 1040 618.3 1041.7 628.8 1041.9 C639.2 1042.1 647.5 1041.1 657.5 1038.8 C667.5 1036.4 681 1031.9 688.8 1027.5 C696.5 1023.1 700.5 1017.1 703.8 1012.5 C707 1007.9 707.7 1002.1 708.5 1000" stroke-width="2.0" fill="none" stroke-dasharray="40 3 2 3"/>
<path d="M707.5 970 L708.8 1002.5" stroke-width="2.2" fill="none"/>
<path d="M596.2 936.2 C597.3 935.8 600.6 934.3 602.5 933.8 C604.4 933.2 606.7 932.9 607.5 932.8" stroke-width="1.8" fill="none"/>
<path d="M601.2 941.2 C602.3 943.1 605.8 948.5 607.5 952.5 C609.2 956.5 610.8 960.8 611.2 965 C611.7 969.2 610.8 973.5 610 977.5 C609.2 981.5 606.9 986.9 606.2 988.8" stroke-width="1.6" fill="none" stroke-dasharray="30 3 2 3"/>
<path d="M650 933.8 L657.5 937.5 L662.5 935.6 L665 940 L670 937.5 L671.9 943.1 L677.5 941.2 L678.8 946.2 L683.8 945 L685 950 L690 948.8 L691.2 955 L696.2 954.4 L697.5 960 L701.9 961.2 L702.8 965.6 L697.5 968.1" stroke-width="2.2" fill="none"/>
<path d="M653.1 941.2 L658.8 940.6" stroke-width="1.6" fill="none"/>
<path d="M645 964.4 C645.6 963.8 647.1 961.4 648.8 960.6 C650.4 959.9 652.7 959.4 655 959.8 C657.3 960.1 661.4 961.1 662.5 962.5 C663.6 963.9 663.1 966.7 661.9 968.1 C660.6 969.5 657.4 970.7 655 971 C652.6 971.3 649.2 971.1 647.5 970 C645.8 968.9 645.4 965.3 645 964.4" stroke-width="2.4" fill="#000"/>
<path d="M616.2 980 C616.9 979 618.1 975.1 620 973.8 C621.9 972.4 624.6 971.9 627.5 971.9 C630.4 971.9 635.3 972.6 637.5 973.8 C639.7 974.9 640.8 976.7 640.6 978.8 C640.4 980.8 638.4 984.5 636.2 986.2 C634.1 988 630.4 989.2 627.5 989.4 C624.6 989.6 620.6 989.1 618.8 987.5 C616.9 985.9 616.7 981.2 616.2 980" stroke-width="3" fill="none"/>
<path d="M617.5 981.2 C618.5 982.1 621.7 985.2 623.8 986.2 C625.8 987.3 627.9 987.7 630 987.5 C632.1 987.3 635.2 985.4 636.2 985" stroke-width="10" fill="none"/>
<path d="M653.8 942.5 L654 962.5" stroke-width="1.2" fill="none"/>
<path d="M655.6 1043.8 L656.2 1078" stroke-width="1.4" fill="none"/>
<path d="M543.7 1026.9 L545.8 1079.5" stroke-width="2.6" fill="none"/>
<path d="M561.7 1026.2 L562.2 1078.5" stroke-width="2.6" fill="none"/>
<path d="M543.3 1028.3 C543.6 1027.6 543.5 1025.2 544.7 1024 C546 1022.9 548.8 1021.8 551.1 1021.6 C553.3 1021.4 556.3 1021.9 558.1 1022.6 C559.9 1023.3 561.5 1024.6 562 1025.8 C562.4 1027 562 1028.8 560.9 1029.7 C559.8 1030.5 556.2 1030.8 555.3 1031.1" stroke-width="2.4" fill="none"/>
<path d="M544 1029.3 C544.6 1029.6 547 1030.8 547.6 1031.1" stroke-width="2" fill="none"/>
<path d="M545.1 1076.4 C544.5 1076.9 542.3 1078.4 541.6 1079.5 C540.8 1080.6 540.4 1081.7 540.5 1083 C540.7 1084.3 541.4 1086.2 542.3 1087.2 C543.2 1088.3 545.5 1089 546.2 1089.4" stroke-width="2.6" fill="none"/>
<path d="M560.9 1076.7 C561.6 1077.2 564.2 1078.4 565.1 1079.5 C566 1080.7 566.4 1082.3 566.2 1083.7 C565.9 1085.1 564.7 1087 563.7 1087.9 C562.7 1088.9 560.8 1089.1 560.2 1089.4" stroke-width="2.6" fill="none"/>
<path d="M545.1 1080.9 C546.4 1081.5 550.2 1084.2 553.2 1084.1 C556.2 1084 561.4 1080.9 563 1080.2" stroke-width="1.8" fill="none"/>
<path d="M544 1086.5 C545.6 1087 549.9 1089.1 553.2 1089 C556.5 1088.9 562 1086.7 563.7 1086.2" stroke-width="2.2" fill="none"/>
<path d="M545.1 1090.1 C545 1090.8 544.1 1092.9 544.4 1094.3 C544.7 1095.7 545.5 1097.4 546.9 1098.5 C548.2 1099.5 550.6 1100.5 552.5 1100.6 C554.3 1100.7 556.7 1100.1 558.1 1099.2 C559.5 1098.2 560.5 1096.5 560.9 1095 C561.3 1093.5 560.6 1090.9 560.5 1090.1" stroke-width="2.6" fill="none"/>
<path d="M552.5 1107.5 L554.5 1196" stroke-width="1.1" fill="none" stroke-dasharray="40 5 6 5"/>
<path d="M286.2 1005 L496.2 993.8" stroke-width="1.2" fill="none"/>
<circle cx="496.2" cy="993.8" r="1.6" fill="#000" stroke="none"/>
<path d="M285 1066.2 L543.8 1070" stroke-width="1.2" fill="none"/>
<circle cx="543.8" cy="1070" r="1.6" fill="#000" stroke="none"/>
<path d="M707 1028 L517.5 1150 L513.8 1152.5 L515 1156.2 L492.5 1172.5 L487.5 1169.5 L415 1212.5" stroke-width="2.4" fill="none"/>
<path d="M415 1212.5 C413.7 1214 408.2 1218.1 407 1221.2 C405.8 1224.4 406.2 1228.3 407.5 1231.2 C408.8 1234.2 413.8 1237.5 415 1238.8" stroke-width="2.4" fill="none"/>
<path d="M415 1238.8 L517.5 1310" stroke-width="2.4" fill="none"/>
<path d="M517.5 1310 C518.8 1310.6 522.5 1313.8 525 1313.8 C527.5 1313.8 531.2 1310.6 532.5 1310" stroke-width="2.4" fill="none"/>
<path d="M532.5 1310 L607.5 1257.5 L610 1247.5 L632.5 1231.2 L638.8 1235 L825 1102.5 L829.5 1099.5 L828 1091.2" stroke-width="2.4" fill="none"/>
<path d="M412.5 1233.8 L520 1306.2" stroke-width="1.1" fill="none"/>
<path d="M530 1306.2 L606.2 1253" stroke-width="1.1" fill="none"/>
<path d="M640 1231.2 L825 1098" stroke-width="1.1" fill="none"/>
<path d="M490 1190.5 C490.8 1189.8 492.9 1186.9 495 1186.2 C497.1 1185.6 500.8 1185.9 502.5 1186.8 C504.2 1187.6 505.6 1189.8 505 1191.2 C504.4 1192.7 500.9 1195 498.8 1195.5 C496.6 1196 493.5 1195.1 492 1194.2 C490.5 1193.4 490.3 1191.1 490 1190.5" stroke-width="2.2" fill="none"/>
<path d="M492 1191.8 L503 1191" stroke-width="2.6" fill="none"/>
<path d="M431.2 1226.8 C432.1 1226 434.2 1223.1 436.2 1222.5 C438.3 1221.9 442.1 1222.2 443.8 1223 C445.4 1223.8 446.9 1226 446.2 1227.5 C445.6 1229 442.2 1231.2 440 1231.8 C437.8 1232.2 434.7 1231.3 433.2 1230.5 C431.8 1229.7 431.6 1227.4 431.2 1226.8" stroke-width="2.2" fill="none"/>
<path d="M433.2 1228 L444.2 1227.2" stroke-width="2.6" fill="none"/>
<path d="M567.5 1246.8 C568.3 1246 570.4 1243.1 572.5 1242.5 C574.6 1241.9 578.3 1242.2 580 1243 C581.7 1243.8 583.1 1246 582.5 1247.5 C581.9 1249 578.4 1251.2 576.2 1251.8 C574.1 1252.2 571 1251.3 569.5 1250.5 C568 1249.7 567.8 1247.4 567.5 1246.8" stroke-width="2.2" fill="none"/>
<path d="M569.5 1248 L580.5 1247.2" stroke-width="2.6" fill="none"/>
<path d="M513.8 1283 C514.6 1282.3 516.7 1279.4 518.8 1278.8 C520.8 1278.1 524.6 1278.4 526.2 1279.2 C527.9 1280.1 529.4 1282.3 528.8 1283.8 C528.1 1285.2 524.7 1287.5 522.5 1288 C520.3 1288.5 517.2 1287.6 515.8 1286.8 C514.3 1285.9 514.1 1283.6 513.8 1283" stroke-width="2.2" fill="none"/>
<path d="M515.8 1284.2 L526.8 1283.5" stroke-width="2.6" fill="none"/>
<path d="M546.2 1206.8 C546.9 1205.9 547.9 1202.7 550 1201.8 C552.1 1200.8 556.5 1200.3 558.8 1201 C561 1201.7 563.8 1204.2 563.8 1206 C563.8 1207.8 561 1210.7 558.8 1211.8 C556.5 1212.8 552.1 1213.3 550 1212.5 C547.9 1211.7 546.9 1207.7 546.2 1206.8" stroke-width="2.2" fill="none"/>
<path d="M550 1206 C550.8 1205.7 553.3 1204.1 555 1204.2 C556.7 1204.4 560 1205.9 560 1206.8 C560 1207.6 556.7 1209.4 555 1209.2 C553.3 1209.1 550.8 1206.5 550 1206" stroke-width="1.4" fill="none"/>
<path d="M552.5 1105.5 L554.5 1203" stroke-width="1.1" fill="none"/>
<path d="M575 1238 L575.5 1244.2" stroke-width="1.1" fill="none"/>
<path d="M282.5 1171.8 L431.2 1200.5" stroke-width="1.2" fill="none"/>
<circle cx="431.2" cy="1200.5" r="1.6" fill="#000" stroke="none"/>
<path d="M576.2 1288 L576.2 1299.2" stroke-width="1.2" fill="none"/>
<path d="M570 1308 C570.4 1307 571.2 1303 572.5 1301.8 C573.8 1300.5 575.8 1300.4 577.5 1300.5 C579.2 1300.6 581.5 1301.2 582.5 1302.5 C583.5 1303.8 583.5 1307.1 583.8 1308" stroke-width="2.2" fill="none"/>
<path d="M570 1308 L571.2 1345.5" stroke-width="2.4" fill="none"/>
<path d="M583.8 1308 L583 1345.5" stroke-width="2.4" fill="none"/>
<path d="M571.2 1310.5 L583 1308.5" stroke-width="3.0" fill="none"/>
<path d="M571.2 1315.5 L583 1313.5" stroke-width="3.0" fill="none"/>
<path d="M571.2 1320.5 L583 1318.5" stroke-width="3.0" fill="none"/>
<path d="M571.2 1325.5 L583 1323.5" stroke-width="3.0" fill="none"/>
<path d="M571.2 1330.5 L583 1328.5" stroke-width="3.0" fill="none"/>
<path d="M571.2 1335.5 L583 1333.5" stroke-width="3.0" fill="none"/>
<path d="M571.2 1340.5 L583 1338.5" stroke-width="3.0" fill="none"/>
<path d="M571.2 1345.5 L583 1343.5" stroke-width="3.0" fill="none"/>
<path d="M564.6 1355.6 C565.6 1356.1 568.8 1357.9 570.9 1358.5 C573 1359.1 574.8 1359.3 577.2 1359.1 C579.6 1358.9 583.2 1358.1 585.3 1357.4 C587.4 1356.6 589.3 1353.7 589.9 1354.5 C590.5 1355.2 589.9 1359.9 588.8 1362 C587.6 1364 584.9 1365.6 583 1366.6 C581.1 1367.5 579.4 1367.9 577.2 1367.7 C575 1367.5 571.7 1366.5 569.8 1365.4 C567.8 1364.4 566.6 1363 565.7 1361.4 C564.9 1359.8 564.8 1356.6 564.6 1355.6 C564.4 1354.7 563.5 1355.2 564.6 1355.6Z" stroke-width="1" fill="#000"/>
<path d="M563 1353 C563.8 1352 565.1 1348.1 567.5 1346.8 C569.9 1345.4 574.2 1344.8 577.5 1345 C580.8 1345.2 585.3 1346.5 587.5 1348 C589.7 1349.5 590.3 1352 590.5 1354.2 C590.7 1356.5 590.5 1359.8 588.8 1361.8 C587 1363.7 583.1 1365.5 580 1366 C576.9 1366.5 572.7 1365.9 570 1365 C567.3 1364.1 564.9 1362.5 563.8 1360.5 C562.6 1358.5 563.1 1354.2 563 1353" stroke-width="2.6" fill="none"/>
<path d="M567.5 1363 C569.2 1363.6 574.2 1366.8 577.5 1366.8 C580.8 1366.8 585.8 1363.6 587.5 1363" stroke-width="4" fill="none"/>
<path d="M280 1263 L562.5 1348" stroke-width="1.2" fill="none"/>
<circle cx="562.5" cy="1348" r="1.6" fill="#000" stroke="none"/>
<path d="M620 1105 C620.3 1104.2 620 1101.5 621.7 1100 C623.3 1098.5 627.2 1096.8 630 1095.8 C632.8 1094.9 636.9 1094.4 638.3 1094.2" stroke-width="2.4" fill="none"/>
<path d="M598.3 1108.3 C598.1 1109.2 596.4 1111.4 596.7 1113.3 C596.9 1115.3 599.4 1118.9 600 1120" stroke-width="2.4" fill="none"/>
<path d="M600 1120 L666.7 1161.7" stroke-width="2.4" fill="none"/>
<path d="M666.7 1161.7 C667.8 1162.1 671.1 1164.2 673.3 1164.2 C675.6 1164.2 678.9 1162.1 680 1161.7" stroke-width="2.4" fill="none"/>
<path d="M680 1161.7 L718.3 1136.7 L720 1135 L720 1122.5 L715.8 1120" stroke-width="2.4" fill="none"/>
<path d="M600 1116.7 L668.3 1158.3 L678.3 1158.3 L716.7 1133.3" stroke-width="1.2" fill="none"/>
<path d="M665.6 1072.2 L685.6 1059.4" stroke-width="2.4" fill="none"/>
<path d="M694.4 1053.3 L763.3 1006.7" stroke-width="2.4" fill="none"/>
<path d="M707.8 1028.3 L723.3 1031.7" stroke-width="2" fill="none"/>
<path d="M598.3 1108.3 L638.9 1081.1" stroke-width="2.4" fill="none"/>
<path d="M663.3 1111.7 C664.4 1112.4 665.6 1113.1 670 1115.8 C674.4 1118.6 685.8 1125.1 690 1128.3 C694.2 1131.5 695 1132.6 695 1135 C695 1137.4 692.5 1141.1 690 1142.5 C687.5 1143.9 683.3 1143.8 680 1143.3 C676.7 1142.9 679.2 1145.3 670 1140 C660.8 1134.7 633.1 1117.5 625 1111.7 C616.9 1105.8 621.7 1107.2 621.7 1105 C621.7 1102.8 623.1 1099.6 625 1098.3 C626.9 1097.1 631.1 1097.2 633.3 1097.5 C635.6 1097.8 637.5 1099.6 638.3 1100" stroke-width="2.4" fill="none"/>
<path d="M661.7 1110 C661.9 1110.3 663.1 1111.4 663.3 1111.7" stroke-width="2" fill="none"/>
<path d="M715.8 1120 L828.3 1046.7" stroke-width="2.4" fill="none"/>
<path d="M718.3 1122.5 L830 1050" stroke-width="1.2" fill="none"/>
<path d="M828.3 1046.7 L830.8 1043.3 L829.2 1035 L824.2 1028.3 L818.3 1026.7" stroke-width="2.4" fill="none"/>
<path d="M828.3 1102.5 L827.5 1095 L823.3 1093.3 L818.3 1081.7 L803.3 1071.7" stroke-width="2.4" fill="none"/>
<path d="M801.7 1070 L806.7 1071.7" stroke-width="2" fill="none"/>
<path d="M640 1097.5 C640.8 1096.4 642.2 1092.4 645 1090.8 C647.8 1089.3 652.5 1088.5 656.7 1088.3 C660.8 1088.2 666.8 1088.6 670 1090 C673.2 1091.4 675.6 1094.2 675.8 1096.7 C676.1 1099.2 674.6 1103.1 671.7 1105 C668.8 1106.9 662.8 1108.1 658.3 1108.3 C653.9 1108.6 648.1 1108.5 645 1106.7 C641.9 1104.9 640.8 1099 640 1097.5" stroke-width="2.4" fill="none"/>
<path d="M640.8 1100 C643.8 1100.7 652.6 1104.3 658.3 1104.2 C664 1104 672.2 1100 675 1099.2" stroke-width="1.4" fill="none"/>
<path d="M646.7 1090 L646.3 1081.7" stroke-width="2.4" fill="none"/>
<path d="M670 1090 L670 1081.7" stroke-width="2.4" fill="none"/>
<path d="M646.3 1081.7 C646.9 1081 648 1078.5 650 1077.5 C652 1076.5 655.6 1075.8 658.3 1075.8 C661.1 1075.8 664.7 1076.5 666.7 1077.5 C668.6 1078.5 670 1080.1 670 1081.7 C670 1083.2 668.6 1085.6 666.7 1086.7 C664.7 1087.8 661.1 1088.3 658.3 1088.3 C655.6 1088.3 652 1087.8 650 1086.7 C648 1085.6 646.9 1082.5 646.3 1081.7" stroke-width="2.4" fill="none"/>
<ellipse cx="658" cy="1081.7" rx="4.5" ry="3" stroke-width="2.6" fill="none"/>
<path d="M655.8 1043.3 L656.7 1081.7" stroke-width="1.3" fill="none"/>
<path d="M701.7 1155.8 C702.2 1155.4 703.5 1153.8 705 1153.3 C706.5 1152.9 709.4 1152.8 710.8 1153.3 C712.2 1153.9 713.5 1155.6 713.3 1156.7 C713.2 1157.7 711.5 1159.2 710 1159.7 C708.5 1160.2 705.6 1160.3 704.2 1159.7 C702.8 1159 702.1 1156.5 701.7 1155.8" stroke-width="2" fill="none"/>
<path d="M707.5 1103.3 L708 1155" stroke-width="1.2" fill="none" stroke-dasharray="4 60 110 20"/>
<path d="M707.5 835 L642.5 865" stroke-width="1.2" fill="none"/>
<circle cx="642.5" cy="865" r="1.6" fill="#000" stroke="none"/>
<path d="M708.8 875 L646 928.8" stroke-width="1.2" fill="none"/>
<circle cx="646" cy="928.8" r="1.6" fill="#000" stroke="none"/>
<path d="M710 916 L684 939" stroke-width="1.2" fill="none"/>
<circle cx="684" cy="939" r="1.6" fill="#000" stroke="none"/>
<path d="M740 972.5 L677.5 1081" stroke-width="1.2" fill="none"/>
<circle cx="677.5" cy="1081" r="1.6" fill="#000" stroke="none"/>
<path d="M826 1059.4 L826 1138.2" stroke-width="1.3" fill="none"/>
<path d="M819 1163 C819 1159.8 818.5 1147.9 819 1144 C819.5 1140.1 820.7 1140.4 822 1139.5 C823.3 1138.6 825.3 1138.4 827 1138.5 C828.7 1138.6 830.8 1139.1 832 1140 C833.2 1140.9 833.6 1140.2 834 1144 C834.4 1147.8 834.4 1159.8 834.5 1163" stroke-width="2.6" fill="none"/>
<path d="M819.5 1148.5 L833.8 1147.5" stroke-width="2.2" fill="none"/>
<path d="M819.5 1152.5 L833.8 1151.5" stroke-width="2.2" fill="none"/>
<path d="M819.5 1156.5 L833.8 1155.5" stroke-width="2.2" fill="none"/>
<path d="M819.5 1160.5 L833.8 1159.5" stroke-width="2.2" fill="none"/>
<path d="M816.5 1172 C816.5 1170.8 814.6 1166.2 816.2 1164.5 C817.8 1162.8 822.7 1162.1 826 1162 C829.3 1161.9 834 1162.1 835.8 1163.8 C837.6 1165.5 836.6 1170.6 836.8 1172" stroke-width="2.4" fill="none"/>
<path d="M817.2 1170.5 C818.7 1170.8 822.8 1172.5 826 1172.5 C829.2 1172.5 834.8 1170.8 836.5 1170.5" stroke-width="1.6" fill="none"/>
<path d="M812.5 1171 C812.2 1172 810.8 1174.5 811 1177 C811.2 1179.5 811.7 1183.8 814 1186 C816.3 1188.2 821.3 1190.3 825 1190.5 C828.7 1190.7 833.5 1189.2 836 1187 C838.5 1184.8 839.5 1179.8 840 1177 C840.5 1174.2 839.2 1171.2 839 1170" stroke-width="2.8" fill="none"/>
<path d="M813 1180 C815.2 1180.4 821.6 1182.7 826 1182.5 C830.4 1182.3 837.2 1179.6 839.5 1179" stroke-width="1.8" fill="none"/>
<path d="M815 1184.5 C816.8 1185 822.3 1187.5 826 1187.5 C829.7 1187.5 835.2 1185 837 1184.5" stroke-width="3.4" fill="none"/>
<path d="M840 1173 L846 1175 L893 1200.4" stroke-width="1.3" fill="none"/>
<circle cx="844" cy="1174" r="1.8" fill="#000" stroke="none"/>
<path d="M707.4 1102.2 L707.7 1156.7" stroke-width="1.3" fill="none" stroke-dasharray="12 30 200 8"/>
<path d="M707.5 1193 L708 1220" stroke-width="1.3" fill="none"/>
<path d="M701.5 1240 C701.5 1237.7 701.1 1229.1 701.5 1226 C701.9 1222.9 702.8 1222.2 704 1221.2 C705.2 1220.2 707.3 1219.9 709 1220 C710.7 1220.1 712.9 1220.8 714 1221.8 C715.1 1222.8 715.2 1223 715.5 1226 C715.8 1229 715.5 1237.7 715.5 1240" stroke-width="2.6" fill="none"/>
<path d="M702.2 1230.5 L714.8 1229.5" stroke-width="2.2" fill="none"/>
<path d="M702.2 1234.5 L714.8 1233.5" stroke-width="2.2" fill="none"/>
<path d="M702.2 1238.5 L714.8 1237.5" stroke-width="2.2" fill="none"/>
<path d="M703 1238.5 C702 1238.9 698.3 1239.4 697 1241 C695.7 1242.6 695.2 1245.7 695 1248 C694.8 1250.3 695 1253.1 696 1255 C697 1256.9 698.7 1258.5 701 1259.5 C703.3 1260.5 707 1261.5 710 1261.2 C713 1260.9 716.8 1259.5 719 1257.5 C721.2 1255.5 722.7 1251.8 723 1249 C723.3 1246.2 722.2 1242.8 721 1241 C719.8 1239.2 716.4 1238.7 715.5 1238.2" stroke-width="2.8" fill="none"/>
<path d="M696 1250 C698.2 1250.8 704.7 1254.5 709 1254.5 C713.3 1254.5 719.8 1250.8 722 1250" stroke-width="1.8" fill="none"/>
<path d="M698 1256.5 C699.8 1256.9 705.4 1259.1 709 1259 C712.6 1258.9 717.8 1256.5 719.5 1256" stroke-width="3" fill="none"/>
<path d="M723 1247.5 L727 1248 L803 1270" stroke-width="1.3" fill="none"/>
<circle cx="725.5" cy="1247.5" r="1.8" fill="#000" stroke="none"/>
<path d="M755 873.8 L1543 412 L1572.5 422 L1572.5 426.5 L790 900 L757.5 882.5 L755 873.8" stroke-width="2.6" fill="none"/>
<path d="M757.5 882.5 L792.5 896 L1570 421.5" stroke-width="1.3" fill="none"/>
<path d="M790 900 L792.5 896" stroke-width="1.6" fill="none"/>
<ellipse cx="823" cy="855" rx="6.5" ry="4.2" stroke-width="0" fill="#000"/>
<path d="M818.5 852.7 Q823 856 827.5 852.7" stroke="#fff" stroke-width="1.6" fill="none"/>
<ellipse cx="1034" cy="729.5" rx="6.5" ry="4.2" stroke-width="0" fill="#000"/>
<path d="M1029.5 727.2 Q1034 730.5 1038.5 727.2" stroke="#fff" stroke-width="1.6" fill="none"/>
<ellipse cx="1211.5" cy="624.5" rx="6.5" ry="4.2" stroke-width="0" fill="#000"/>
<path d="M1207 622.2 Q1211.5 625.5 1216 622.2" stroke="#fff" stroke-width="1.6" fill="none"/>
<ellipse cx="1376.5" cy="526.5" rx="6.5" ry="4.2" stroke-width="0" fill="#000"/>
<path d="M1372 524.2 Q1376.5 527.5 1381 524.2" stroke="#fff" stroke-width="1.6" fill="none"/>
<ellipse cx="1518.5" cy="442" rx="6.5" ry="4.2" stroke-width="0" fill="#000"/>
<path d="M1514 439.7 Q1518.5 443 1523 439.7" stroke="#fff" stroke-width="1.6" fill="none"/>
<path d="M924.2 684.2 L948.3 755" stroke-width="1.3" fill="none"/>
<circle cx="948.3" cy="755" r="1.6" fill="#000" stroke="none"/>
<path d="M809.7 799.2 C810 797.8 809.9 793 811.7 790.8 C813.4 788.7 816.9 786.9 820 786.3 C823.1 785.8 827.5 786.1 830 787.5 C832.5 788.9 834.3 792.2 835 795 C835.7 797.8 835.6 801.8 834.2 804.2 C832.8 806.5 829.6 808.2 826.7 809.2 C823.8 810.1 819.4 810.4 816.7 809.7 C813.9 809 811.2 806.8 810 805 C808.8 803.2 809.7 800.1 809.7 799.2" stroke-width="2.6" fill="none"/>
<path d="M811.7 800 C812.8 799.2 815.6 795.8 818.3 795 C821.1 794.2 825.8 794.4 828.3 795 C830.8 795.6 832.5 797.8 833.3 798.3" stroke-width="1.6" fill="none"/>
<path d="M816.7 809.2 L815.8 802.5 L811.7 800.8" stroke-width="1.3" fill="none"/>
<path d="M826.7 808.7 L827.5 802.5 L834.2 800" stroke-width="1.3" fill="none"/>
<path d="M818.3 793.3 C818.9 792.6 820.1 789.7 821.7 789.2 C823.2 788.6 826.2 789.2 827.5 790 C828.8 790.8 829.7 792.9 829.2 794.2 C828.6 795.4 826 797.2 824.2 797.5 C822.4 797.8 819.3 796.5 818.3 795.8 C817.4 795.1 818.3 793.8 818.3 793.3" stroke-width="2.6" fill="none"/>
<path d="M821.7 814.2 L822 851.7" stroke-width="1.3" fill="none"/>
<path d="M855.8 716.7 L825.8 783.3" stroke-width="1.3" fill="none"/>
<circle cx="825.8" cy="783.3" r="1.6" fill="#000" stroke="none"/>
<path d="M822.5 885 L823.3 1000" stroke-width="1.3" fill="none" stroke-dasharray="70 6 4 6"/>
<path d="M878.3 918.3 L1467.5 535.6" stroke-width="1.3" fill="none" stroke-dasharray="150 8 5 8"/>
<path d="M1570 578 L988.3 989" stroke-width="2.2" fill="none"/>
<path d="M1570 582 L990 993" stroke-width="1.1" fill="none"/>
<path d="M1504.5 567 C1504.9 566.5 1505.8 564.4 1507 564 C1508.2 563.6 1510.9 563.9 1512 564.5 C1513.1 565.1 1513.8 566.6 1513.5 567.5 C1513.2 568.4 1511.2 569.7 1510 570 C1508.8 570.3 1506.9 570 1506 569.5 C1505.1 569 1504.8 567.4 1504.5 567" stroke-width="1.4" fill="none"/>
<path d="M1506.5 568 L1512 567.5" stroke-width="2" fill="none"/>
<path d="M1359.5 664 C1359.9 663.5 1360.8 661.4 1362 661 C1363.2 660.6 1365.9 660.9 1367 661.5 C1368.1 662.1 1368.8 663.6 1368.5 664.5 C1368.2 665.4 1366.2 666.7 1365 667 C1363.8 667.3 1361.9 667 1361 666.5 C1360.1 666 1359.8 664.4 1359.5 664" stroke-width="1.4" fill="none"/>
<path d="M1361.5 665 L1367 664.5" stroke-width="2" fill="none"/>
<path d="M1197 771 C1197.4 770.5 1198.2 768.4 1199.5 768 C1200.8 767.6 1203.4 767.9 1204.5 768.5 C1205.6 769.1 1206.3 770.6 1206 771.5 C1205.7 772.4 1203.8 773.7 1202.5 774 C1201.2 774.3 1199.4 774 1198.5 773.5 C1197.6 773 1197.2 771.4 1197 771" stroke-width="1.4" fill="none"/>
<path d="M1199 772 L1204.5 771.5" stroke-width="2" fill="none"/>
<path d="M1024.5 889 C1024.9 888.5 1025.8 886.4 1027 886 C1028.2 885.6 1030.9 885.9 1032 886.5 C1033.1 887.1 1033.8 888.6 1033.5 889.5 C1033.2 890.4 1031.2 891.7 1030 892 C1028.8 892.3 1026.9 892 1026 891.5 C1025.1 891 1024.8 889.4 1024.5 889" stroke-width="1.4" fill="none"/>
<path d="M1026.5 890 L1032 889.5" stroke-width="2" fill="none"/>
<path d="M1468.8 535 C1472.3 535.7 1485.6 537.9 1490 539.4 C1494.4 540.8 1492.5 542.6 1495 543.8 C1497.5 544.9 1501.9 545.9 1505 546 C1508.1 546.1 1511.9 545.5 1513.8 544.4 C1515.6 543.3 1516.2 540.9 1516 539.4 C1515.8 537.8 1516 537.2 1512.5 535 C1509 532.8 1498.8 528.1 1495 526.2 C1491.2 524.4 1490.6 524.8 1490 523.8 C1489.4 522.7 1489.8 520.8 1491.2 520 C1492.7 519.2 1495.6 518.6 1498.8 518.8 C1501.9 518.9 1506.5 519.6 1510 520.6 C1513.5 521.7 1516.2 523.6 1520 525 C1523.8 526.4 1529.4 528.5 1532.5 528.8 C1535.6 529 1537.5 527.4 1538.8 526.2 C1540 525.1 1540.4 523.3 1540 521.9 C1539.6 520.4 1540 519.6 1536.2 517.5 C1532.5 515.4 1521.4 511.2 1517.5 509.4 C1513.6 507.5 1513.5 507.3 1513.1 506.2 C1512.7 505.2 1513.4 503.8 1515 503.1 C1516.6 502.5 1518.8 502 1522.5 502.5 C1526.2 503 1533.1 505 1537.5 506.2 C1541.9 507.5 1545 508.8 1548.8 510 C1552.5 511.2 1557.3 513.8 1560 513.8 C1562.7 513.8 1564.3 511.5 1565 510 C1565.7 508.5 1565.2 506.5 1564.4 505 C1563.5 503.5 1564.1 503.3 1560 501.2 C1555.9 499.2 1544 494.4 1540 492.5 C1536 490.6 1536.5 490.8 1536.2 490 C1536 489.2 1537.3 488 1538.8 487.5 C1540.2 487 1540.6 486.5 1545 487.2 C1549.4 488 1552.3 487.5 1565 491.9 C1577.7 496.3 1608.8 508.6 1621.2 513.8 C1633.8 518.9 1636.1 520.4 1640 522.5 C1643.9 524.6 1644 525 1644.4 526.2 C1644.8 527.5 1643.4 529.2 1642.5 530 C1641.6 530.8 1642.3 531.8 1638.8 531.2 C1635.2 530.7 1624.6 528.1 1621.2 526.9 C1617.9 525.6 1620.2 525 1618.8 523.8 C1617.3 522.5 1615.2 520.4 1612.5 519.4 C1609.8 518.3 1605.4 517.4 1602.5 517.5 C1599.6 517.6 1596.5 518.8 1595 520 C1593.5 521.2 1593.1 523.3 1593.8 525 C1594.4 526.7 1594.4 527.3 1598.8 530 C1603.1 532.7 1615.9 538.6 1620 541.2 C1624.1 543.9 1623.1 544.4 1623.1 545.6 C1623.1 546.9 1621.8 548.3 1620 548.8 C1618.2 549.2 1616.9 549.4 1612.5 548.1 C1608.1 546.9 1597.9 543.4 1593.8 541.2 C1589.6 539.1 1589.8 536.4 1587.5 535 C1585.2 533.6 1582.5 533.1 1580 533.1 C1577.5 533.1 1574.5 533.6 1572.5 535 C1570.5 536.4 1568.3 539.4 1568.1 541.2 C1567.9 543.1 1567.6 544 1571.2 546.2 C1574.9 548.5 1585.9 552.8 1590 555 C1594.1 557.2 1595 557.9 1595.6 559.4 C1596.2 560.8 1597.2 564 1593.8 563.8 C1590.3 563.5 1579.8 560 1575 558.1 C1570.2 556.2 1568.3 553.6 1565 552.5 C1561.7 551.4 1558.1 550.8 1555 551.2 C1551.9 551.7 1547.9 553.5 1546.2 555 C1544.6 556.5 1544.4 558.1 1545 560 C1545.6 561.9 1546.7 564 1550 566.2 C1553.3 568.5 1561.7 571.9 1565 573.8 C1568.3 575.6 1569.2 576.5 1570 577.5 C1570.8 578.5 1570 579.6 1570 580" stroke-width="2.4" fill="none"/>
<path d="M1440 552.5 L1468.8 535" stroke-width="1.3" fill="none"/>
<path d="M1493.8 527.5 L1513.8 537.5" stroke-width="1.2" fill="none"/>
<path d="M1516.2 511.2 L1537.5 521.2" stroke-width="1.2" fill="none"/>
<path d="M1540 493.8 L1561.2 503.8" stroke-width="1.2" fill="none"/>
<path d="M1598.8 523.8 L1618.8 526.2" stroke-width="1.2" fill="none"/>
<path d="M1572.5 540 L1593.8 542.5" stroke-width="1.2" fill="none"/>
<path d="M1547.5 557.5 L1567.5 560" stroke-width="1.2" fill="none"/>
<path d="M748.3 1011.7 C748.3 1010.3 747.5 1005.3 748.3 1003.3 C749.2 1001.3 750.8 1000.4 753.3 999.7 C755.8 999 757.5 997.9 763.3 999.2 C769.2 1000.5 784.2 1006.1 788.3 1007.5" stroke-width="2.4" fill="none"/>
<path d="M788.3 1007.5 L805 995 L806.7 985 L795 986.7 L790.8 976.7 L798.3 972.5 L820 978.3 L823.3 981.7 L846.7 966.7 L846.7 958.3 L841.7 950 L833.3 956.7 L830 950 L833.3 947.5 L848.3 951.7 L866.7 955.8 L885 943.3 L886.7 930 L883.3 933.3 L866.7 931.7 L866.7 923.3 L871.7 922.5 L886.7 926.7 L905 929.2 L923.3 918.3 L923.3 908.3 L928.3 901.7 L948.3 900 L956.7 896.7 L965 901.7 L956.7 910 L960 915 L981.7 910 L990 916.7 L986.7 921.7 L988.3 936.7 L990 940" stroke-width="2.4" fill="none"/>
<path d="M990 940 L965 934.2 L943.3 946.7 L951.7 960 L948.3 965 L926.7 960 L905 975 L913.3 988.3 L906.7 993.3 L886.7 986.7 L863.3 1001.7 L873.3 1016.7 L866.7 1020 L845 1015 L820 1026.7 L830 1040 L830 1046.7" stroke-width="2.4" fill="none"/>
<path d="M988.3 937.5 L965 931.7 L942.5 945" stroke-width="1.2" fill="none"/>
<path d="M945.8 963.3 L926.7 957.5 L904.2 972.5" stroke-width="1.2" fill="none"/>
<path d="M904.2 990.8 L886.7 984.2 L862.5 999.2" stroke-width="1.2" fill="none"/>
<path d="M864.2 1018.3 L845 1012.5 L818.3 1025" stroke-width="1.2" fill="none"/>
<path d="M988.3 990 C983.1 988.6 962.8 984.2 956.7 981.7 C950.6 979.2 954.4 976.7 951.7 975 C948.9 973.3 944.4 971.7 940 971.7 C935.6 971.7 928.1 973.1 925 975 C921.9 976.9 920.8 980 921.7 983.3 C922.5 986.7 925 990 930 995 C935 1000 948.6 1009.4 951.7 1013.3 C954.7 1017.2 953.9 1019.2 948.3 1018.3 C942.8 1017.5 924.2 1010.8 918.3 1008.3 C912.5 1005.8 915.3 1005 913.3 1003.3 C911.4 1001.7 909.7 999.2 906.7 998.3 C903.6 997.5 898.9 997.5 895 998.3 C891.1 999.2 885.3 1000.8 883.3 1003.3 C881.4 1005.8 881.7 1010 883.3 1013.3 C885 1016.7 888.3 1018.9 893.3 1023.3 C898.3 1027.8 910.3 1036.1 913.3 1040 C916.4 1043.9 917.2 1047.2 911.7 1046.7 C906.1 1046.1 886.7 1040 880 1036.7 C873.3 1033.3 875 1028.6 871.7 1026.7 C868.3 1024.7 864.7 1024.7 860 1025 C855.3 1025.3 846.4 1026.4 843.3 1028.3 C840.3 1030.3 840.6 1033.6 841.7 1036.7 C842.8 1039.7 844.7 1041.7 850 1046.7 C855.3 1051.7 870 1062.2 873.3 1066.7 C876.7 1071.1 876.1 1073.9 870 1073.3 C863.9 1072.8 843.9 1066.1 836.7 1063.3 C829.4 1060.6 829.4 1058.1 826.7 1056.7 C823.9 1055.3 821.1 1055.3 820 1055" stroke-width="2.4" fill="none"/>
<path d="M773.3 1045.8 C771.9 1045.7 766.7 1046.1 765 1045 C763.3 1043.9 762.4 1041 763 1039.2 C763.6 1037.4 757.2 1041.4 768.3 1034.2 C779.5 1026.9 818.5 1002.6 830 995.8 C841.5 989.1 835.4 993.4 837.5 993.7 C839.6 993.9 842.1 995.8 842.5 997.5 C842.9 999.2 841.5 1002.5 840 1004.2 C838.5 1005.8 844.4 1000.6 833.3 1007.5 C822.2 1014.4 783.3 1039.4 773.3 1045.8" stroke-width="2.4" fill="none"/>
<path d="M769.2 1037.5 L833.3 997.5" stroke-width="1.2" fill="none"/>
<path d="M1110 1031 L990 940" stroke-width="1.3" fill="none"/>
<circle cx="990" cy="940" r="1.6" fill="#000" stroke="none"/>
<text transform="translate(1640 1409) scale(1 0.87)" x="0" y="0" font-family="Liberation Serif" font-size="39" stroke="none"><tspan fill="#4a6cc0">m</tspan><tspan fill="#3eb83e">o</tspan><tspan fill="#e866b0">t</tspan><tspan fill="#12a040">o</tspan><tspan fill="#ea5418">r</tspan><tspan fill="#f2a418">u</tspan><tspan fill="#f8d018">f</tspan><tspan fill="#333" font-size="20">.de</tspan></text>
<text transform="matrix(0.2427 0 0 0.2368 281 254.3)" font-family="Liberation Sans" font-size="100" fill="#000" stroke="#000" stroke-width="6.0">2</text>
<text transform="matrix(0.2523 0 0 0.2338 297.2 254.1)" font-family="Liberation Sans" font-size="100" fill="#000" stroke="#000" stroke-width="6.0">0</text>
<rect x="272.2" y="484.2" width="2.4" height="16.5" rx="1.2" fill="#000" stroke="none"/>
<text transform="matrix(0.2419 0 0 0.2104 278.6 499.9)" font-family="Liberation Sans" font-size="100" fill="#000" stroke="#000" stroke-width="6.0">9</text>
<rect x="270.8" y="628.4" width="3.4" height="16.4" rx="1.2" fill="#000" stroke="none"/>
<text transform="matrix(0.2472 0 0 0.2182 277.8 644.3)" font-family="Liberation Sans" font-size="100" fill="#000" stroke="#000" stroke-width="6.0">8</text>
<rect x="272.2" y="677.2" width="2.9" height="15.6" rx="1.2" fill="#000" stroke="none"/>
<text transform="matrix(0.2544 0 0 0.2080 278.1 692.2)" font-family="Liberation Sans" font-size="100" fill="#000" stroke="#000" stroke-width="6.0">7</text>
<rect x="270" y="723.6" width="3.4" height="16" rx="1.2" fill="#000" stroke="none"/>
<text transform="matrix(0.2269 0 0 0.2078 277.3 738.8)" font-family="Liberation Sans" font-size="100" fill="#000" stroke="#000" stroke-width="6.0">6</text>
<rect x="269.2" y="775" width="2.9" height="17.8" rx="1.2" fill="#000" stroke="none"/>
<text transform="matrix(0.2336 0 0 0.2237 276.8 792.1)" font-family="Liberation Sans" font-size="100" fill="#000" stroke="#000" stroke-width="6.0">5</text>
<rect x="265.2" y="899.3" width="2.9" height="16.7" rx="1.2" fill="#000" stroke="none"/>
<text transform="matrix(0.2500 0 0 0.2227 270.4 915.3)" font-family="Liberation Sans" font-size="100" fill="#000" stroke="#000" stroke-width="6.0">4</text>
<rect x="262.2" y="997.3" width="3.1" height="16.7" rx="1.2" fill="#000" stroke="none"/>
<text transform="matrix(0.2642 0 0 0.2169 267.4 1013.1)" font-family="Liberation Sans" font-size="100" fill="#000" stroke="#000" stroke-width="6.0">3</text>
<rect x="261.9" y="1056" width="2.9" height="17.3" rx="1.2" fill="#000" stroke="none"/>
<text transform="matrix(0.2583 0 0 0.2276 266.5 1072.6)" font-family="Liberation Sans" font-size="100" fill="#000" stroke="#000" stroke-width="6.0">2</text>
<rect x="262.6" y="1163.2" width="2.7" height="16" rx="1.2" fill="#000" stroke="none"/>
<rect x="273.5" y="1163.7" width="3.3" height="16.3" rx="1.2" fill="#000" stroke="none"/>
<rect x="254.3" y="1251.8" width="2.4" height="16" rx="1.2" fill="#000" stroke="none"/>
<text transform="matrix(0.2748 0 0 0.2208 259.7 1267.1)" font-family="Liberation Sans" font-size="100" fill="#000" stroke="#000" stroke-width="6.0">0</text>
<rect x="715.1" y="823.4" width="3.8" height="16.1" rx="1.2" fill="#000" stroke="none"/>
<text transform="matrix(0.2447 0 0 0.2039 710.8 879.4)" font-family="Liberation Sans" font-size="100" fill="#000" stroke="#000" stroke-width="6.0">2</text>
<text transform="matrix(0.2491 0 0 0.2169 711.1 919.8)" font-family="Liberation Sans" font-size="100" fill="#000" stroke="#000" stroke-width="6.0">3</text>
<text transform="matrix(0.2232 0 0 0.2147 740.1 974.4)" font-family="Liberation Sans" font-size="100" fill="#000" stroke="#000" stroke-width="6.0">4</text>
<text transform="matrix(0.2336 0 0 0.1974 850.6 709.2)" font-family="Liberation Sans" font-size="100" fill="#000" stroke="#000" stroke-width="6.0">5</text>
<text transform="matrix(0.2558 0 0 0.2052 916.2 676.7)" font-family="Liberation Sans" font-size="100" fill="#000" stroke="#000" stroke-width="6.0">6</text>
<text transform="matrix(0.2670 0 0 0.2333 1104.5 1053)" font-family="Liberation Sans" font-size="100" fill="#000" stroke="#000" stroke-width="6.0">7</text>
<text transform="matrix(0.2547 0 0 0.1896 896.6 1215.2)" font-family="Liberation Sans" font-size="100" fill="#000" stroke="#000" stroke-width="6.0">8</text>
<text transform="matrix(0.2590 0 0 0.1896 806.1 1279.3)" font-family="Liberation Sans" font-size="100" fill="#000" stroke="#000" stroke-width="6.0">9</text>
<circle cx="1774" cy="1384.5" r="1" fill="#888" stroke="none"/>
</svg></body></html>
